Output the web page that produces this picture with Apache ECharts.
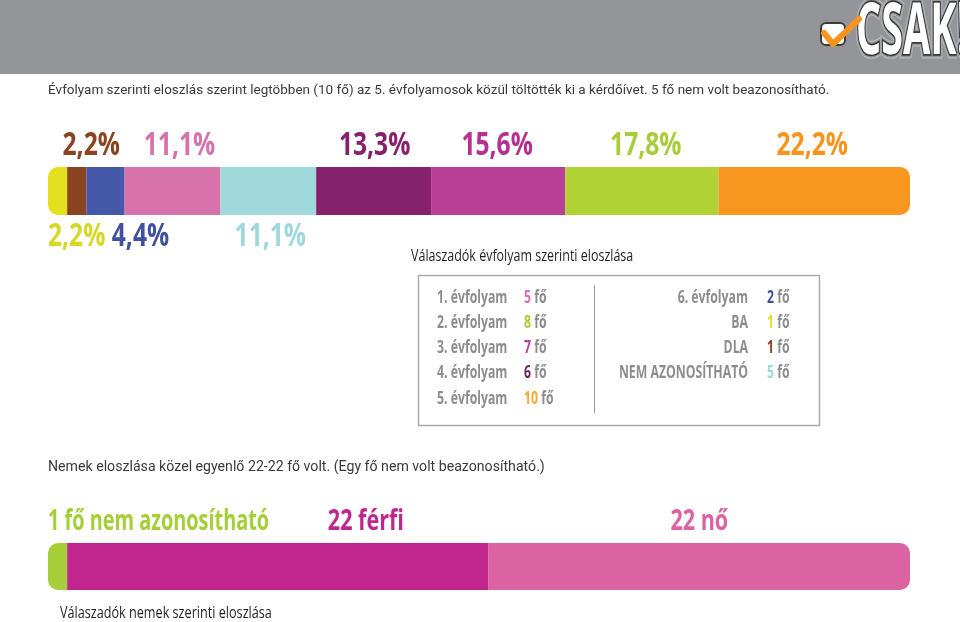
<!DOCTYPE html>
<html><head><meta charset="utf-8">
<script src="https://cdn.jsdelivr.net/npm/echarts@6/dist/echarts.min.js"></script>
<style>html,body{margin:0;padding:0;background:#fff}#c{width:960px;height:622px}</style>
</head><body><div id="c"></div>
<script>
// ---- data ----
const categories = ['BA', 'DLA', '6. évfolyam', '1. évfolyam', 'NEM AZONOSÍTHATÓ', '4. évfolyam', '3. évfolyam', '2. évfolyam', '5. évfolyam'];
const counts = [1, 1, 2, 5, 5, 6, 7, 8, 10];
const legendLeft = ['1. évfolyam', '2. évfolyam', '3. évfolyam', '4. évfolyam', '5. évfolyam'];
const legendRight = ['6. évfolyam', 'BA', 'DLA', 'NEM AZONOSÍTHATÓ'];
const genderCats = ['nem azonosítható', 'férfi', 'nő'];
const genderCounts = [1, 22, 22];
const genderLabels = ['1 fő nem azonosítható', '22 férfi', '22 nő'];
const texts = {
  intro: 'Évfolyam szerinti eloszlás szerint legtöbben (10 fő) az 5. évfolyamosok közül töltötték ki a kérdőívet. 5 fő nem volt beazonosítható.',
  cap1: 'Válaszadók évfolyam szerinti eloszlása',
  intro2: 'Nemek eloszlása közel egyenlő 22-22 fő volt. (Egy fő nem volt beazonosítható.)',
  cap2: 'Válaszadók nemek szerinti eloszlása',
  unit: 'fő',
  logo: 'CSAK!'
};

// ---- styles ----
const barColors = ['#e2e01f', '#8a4420', '#4559a8', '#d872ad', '#9fd9db', '#86216b', '#b93f96', '#b0d235', '#f7971f'];
const labelColors = ['#d6d826', '#8a4420', '#3f519f', '#d872ad', '#9fd8da', '#86216b', '#b5318f', '#a9cd3a', '#f7941d'];
const legendNumColors = {'1. évfolyam':'#d872ad','2. évfolyam':'#a6ce39','3. évfolyam':'#b93f96','4. évfolyam':'#6d1f5c','5. évfolyam':'#f7a833','6. évfolyam':'#3f519f','BA':'#dede22','DLA':'#8a4420','NEM AZONOSÍTHATÓ':'#9fd8da'};
const labelSide = ['bottom','top','bottom','top','bottom','top','top','top','top'];
const labelDx = [0, 14.5, 35, 7, 2, 1, -1, 4, -2];
const genderColors = ['#a6ce39', '#c1268f', '#db62a3'];
const genderDx = [0, 88, 0];
const genderSX = [0.71, 0.77, 0.77];
const FONT = '"Open Sans", "Liberation Sans", sans-serif';
const BODY = 'Roboto, "Liberation Sans", sans-serif';
const SX = 0.77;
const R = 10;
const G1 = {left:48, width:862, top:167, height:48};
const G2 = {left:48, width:862, top:543, height:47};

const total = counts.reduce((a,b)=>a+b,0);
const gTotal = genderCounts.reduce((a,b)=>a+b,0);
const pct = v => (v/total*100).toFixed(1).replace('.', ',') + '%';

function barSeries(cats, vals, colors, stack, axis) {
  const last = cats.length-1;
  return cats.map((c,i)=>({
    type:'bar', name:c, stack:stack, xAxisIndex:axis, yAxisIndex:axis, barWidth:'100%',
    data:[vals[i]], silent:true,
    itemStyle:{color:colors[i], borderRadius: i===0?[R,0,0,R]:(i===last?[0,R,R,0]:0)}
  }));
}

const chart = echarts.init(document.getElementById('c'), null, {renderer:'canvas'});
chart.setOption({
  animation:false,
  grid:[G1, G2],
  xAxis:[{type:'value', gridIndex:0, min:0, max:total, show:false}, {type:'value', gridIndex:1, min:0, max:gTotal, show:false}],
  yAxis:[{type:'category', gridIndex:0, data:['évfolyam'], show:false}, {type:'category', gridIndex:1, data:['nem'], show:false}],
  series: barSeries(categories, counts, barColors, 'top', 0).concat(barSeries(genderCats, genderCounts, genderColors, 'gender', 1))
});

// segment geometry from the axes
function segments(vals, axis, grid) {
  let cum = 0;
  const cy = chart.convertToPixel({yAxisIndex:axis}, 0);
  return vals.map(v=>{
    const x0 = chart.convertToPixel({xAxisIndex:axis}, cum); cum += v;
    const x1 = chart.convertToPixel({xAxisIndex:axis}, cum);
    return {x0:x0, x1:x1, cx:(x0+x1)/2, top:cy-grid.height/2, bottom:cy+grid.height/2};
  });
}
const seg1 = segments(counts, 0, G1);
const seg2 = segments(genderCounts, 1, G2);

const labels = [];
seg1.forEach((s,i)=>{
  const up = labelSide[i]==='top';
  const left = i===0;
  labels.push({type:'text', x: left ? s.x0 : s.cx + labelDx[i], y: up ? s.top-21 : s.bottom+22, scaleX:SX,
    style:{text:pct(counts[i]), align: left?'left':'center', verticalAlign:'middle', fontFamily:FONT, fontWeight:'bold', fontSize:32, fill:labelColors[i]}});
});
seg2.forEach((s,i)=>{
  const left = i===0;
  labels.push({type:'text', x: left ? s.x0 : s.cx + genderDx[i], y: s.top-21, scaleX:genderSX[i],
    style:{text:genderLabels[i], align: left?'left':'center', verticalAlign:'middle', fontFamily:FONT, fontWeight:'bold', fontSize:28, fill:genderColors[i]}});
});

// legend built from the data
const cnt = name => counts[categories.indexOf(name)];
const rowY = [298, 323, 348, 373, 399];
const LSX = 0.7;
const legTxt = {fontFamily:FONT, fontWeight:'bold', fontSize:17.5, fill:'#8d8d8d'};
const legendEls = [];
function numText(n, x, y) {
  return {type:'text', x:x, y:y, scaleX:LSX, style:{text:'{n|'+cnt(n)+'} {f|'+texts.unit+'}', verticalAlign:'middle',
    rich:{n:Object.assign({}, legTxt, {fill:legendNumColors[n]}), f:legTxt}, fontFamily:FONT, fontWeight:'bold', fontSize:17.5}};
}
legendLeft.forEach((n,i)=>{
  legendEls.push({type:'text', x:437, y:rowY[i], scaleX:LSX, style:Object.assign({text:n, verticalAlign:'middle'}, legTxt)});
  legendEls.push(numText(n, 524, rowY[i]));
});
legendRight.forEach((n,i)=>{
  legendEls.push({type:'text', x:748, y:rowY[i], scaleX:LSX, style:Object.assign({text:n, align:'right', verticalAlign:'middle'}, legTxt)});
  legendEls.push(numText(n, 767, rowY[i]));
});

const logoText = (stroke, lw, fill) => ({type:'text', x:856, y:33, scaleX:0.55,
  style:{text:texts.logo, verticalAlign:'middle', fontFamily:FONT, fontWeight:'bold', fontSize:72, fill:fill, stroke:stroke, lineWidth:lw, lineJoin:'round'}});

const graphic = [
  {type:'rect', left:0, top:0, shape:{width:960, height:74}, style:{fill:'#939598'}, z:-1},
  // logo
  logoText('#b9babc', 9, '#939598'),
  logoText('#939598', 6.5, '#939598'),
  logoText('#3a3a3a', 3.5, '#fff'),
  {type:'rect', shape:{x:821, y:23, width:24, height:22, r:5}, style:{fill:'#fff', stroke:'#3c3c3c', lineWidth:2}},
  {type:'polyline', shape:{points:[[824,33],[833,44],[859,19]]}, style:{stroke:'#f7941d', lineWidth:6, fill:null, lineJoin:'round', lineCap:'round'}},
  // texts
  {type:'text', left:48, top:84, style:{text:texts.intro, fontFamily:BODY, fontSize:13.5, fill:'#3a3a3a'}},
  {type:'text', x:411, y:256, scaleX:0.78, style:{text:texts.cap1, verticalAlign:'middle', fontFamily:FONT, fontSize:16, fill:'#231f20'}},
  {type:'text', left:48, top:460, style:{text:texts.intro2, fontFamily:BODY, fontSize:14.15, fill:'#3a3a3a'}},
  {type:'text', x:60, y:613, scaleX:0.79, style:{text:texts.cap2, verticalAlign:'middle', fontFamily:FONT, fontSize:16, fill:'#231f20'}},
  // legend box
  {type:'rect', shape:{x:418.5, y:275.5, width:401, height:150}, style:{fill:'#fff', stroke:'#ababab', lineWidth:1.5}, z:0},
  {type:'line', shape:{x1:594.5, y1:285, x2:594.5, y2:413}, style:{stroke:'#9a9a9a', lineWidth:1}}
].concat(legendEls).concat(labels);

chart.setOption({graphic: graphic});
</script></body></html>
